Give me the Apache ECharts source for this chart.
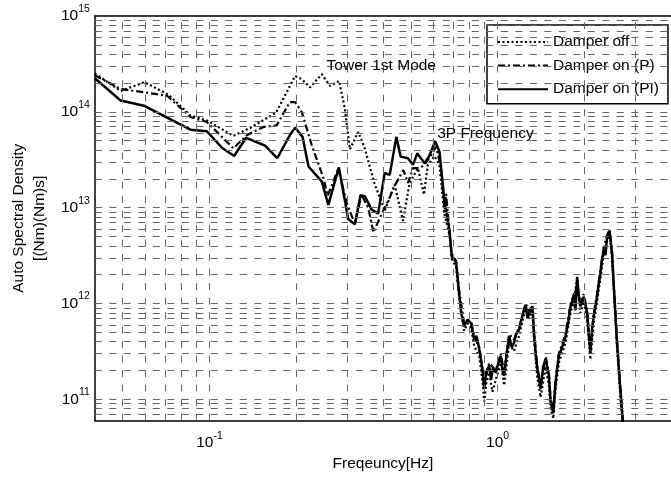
<!DOCTYPE html>
<html><head><meta charset="utf-8">
<script src="https://cdn.jsdelivr.net/npm/echarts@6/dist/echarts.min.js"></script>
<style>html,body{margin:0;padding:0;background:#fff}#c{width:671px;height:477px}</style>
</head><body><div id="c"></div>
<script>
const FONT = '"Liberation Sans", Arial, Helvetica, sans-serif';

// Series names
const seriesNames = ['Damper off', 'Damper on (P)', 'Damper on (PI)'];

// Damper off (dotted)  [frequency Hz, ASD]
const damperOff = [
  [0.04,2.52e14],[0.0492,1.65e14],[0.0595,2.04e14],[0.0723,1.50e14],[0.0859,9.17e13],[0.098,8.13e13],
  [0.1211,5.62e13],[0.1383,6.79e13],[0.1701,9.77e13],[0.190,1.85e14],[0.1983,2.37e14],[0.2092,2.19e14],
  [0.2235,1.80e14],[0.2453,2.47e14],[0.2620,1.87e14],[0.2818,2.10e14],[0.2953,1.07e14],[0.3072,4.05e13],
  [0.3284,6.18e13],[0.346,4.16e13],[0.3748,1.74e13],[0.3952,1.17e13],[0.4058,9.25e12],[0.4393,1.74e13],
  [0.4697,7.29e12],[0.4951,1.81e13],[0.5292,2.58e13],[0.5550,1.37e13],[0.5729,2.80e13],[0.6039,3.44e13],
  [0.6284,2.80e13],[0.654,8.53e12],
  [0.681,5.2e12],[0.694,2.9e12],[0.718,2.4e12],[0.735,1.2e12],[0.765,5.2e11],[0.787,6.2e11],[0.809,5.6e11],
  [0.830,3.6e11],[0.864,2.8e11],[0.888,1.5e11],[0.899,9.5e10],[0.915,1.5e11],[0.935,1.9e11],[0.96,1.2e11],
  [0.986,1.6e11],[1.026,2.4e11],[1.054,1.4e11],[1.097,3.8e11],[1.141,3.2e11],[1.188,4.6e11],[1.252,9.0e11],
  [1.286,7.0e11],[1.321,8.6e11],[1.338,4.2e11],[1.374,1.7e11],[1.411,1.05e11],[1.468,2.2e11],[1.507,1.4e11],
  [1.528,8.0e10],[1.561,6.3e10],[1.590,1.3e11],[1.632,2.4e11],[1.722,3.9e11],[1.792,8.0e11],[1.839,1.05e12],
  [1.889,1.85e12],[1.940,8.0e11],[1.991,1.05e12],[2.046,6.8e11],[2.100,2.6e11],[2.157,6.3e11],[2.215,1.05e12],
  [2.274,1.8e12],[2.335,3.2e12],[2.399,4.5e12],[2.449,5.3e12],[2.497,3.0e12],[2.529,1.5e12],[2.598,3.5e11],
  [2.667,1.1e11],[2.716,5.8e10],[2.753,4.0e10]
];

// Damper on (P) (dash-dot)
const damperP = [
  [0.04,2.41e14],[0.0492,1.73e14],[0.0592,1.60e14],[0.0713,1.47e14],[0.0859,8.82e13],[0.098,7.83e13],
  [0.1211,4.16e13],[0.1347,5.70e13],[0.1538,6.95e13],[0.171,7.22e13],[0.190,1.26e14],[0.1983,1.26e14],
  [0.2092,9.93e13],[0.2265,4.50e13],[0.2486,2.04e13],[0.2573,1.33e13],[0.2801,2.58e13],[0.2992,1.13e13],
  [0.3197,6.73e12],[0.3371,1.37e13],[0.3556,1.0e13],[0.371,5.52e12],[0.3952,8.53e12],[0.4169,1.17e13],
  [0.4393,1.69e13],[0.4709,2.47e13],[0.4888,1.81e13],[0.5087,2.58e13],[0.5361,2.58e13],[0.5578,2.80e13],
  [0.5882,3.54e13],[0.6121,4.33e13],[0.6368,2.58e13],[0.654,9.53e12],[0.663,1.39e13],[0.6806,5.52e12],
  [0.694,3.2e12],[0.718,2.8e12],[0.735,1.4e12],[0.765,6.3e11],[0.809,6.6e11],[0.830,4.5e11],[0.864,3.5e11],
  [0.888,2.0e11],[0.899,1.4e11],[0.935,2.4e11],[0.986,2.0e11],[1.026,3.0e11],[1.054,1.9e11],[1.097,4.8e11],
  [1.141,4.2e11],[1.188,5.6e11],[1.252,1.0e12],[1.286,8.3e11],[1.321,9.6e11],[1.338,5.2e11],[1.374,2.2e11],
  [1.411,1.4e11],[1.468,2.8e11],[1.507,1.9e11],[1.528,1.0e11],[1.561,7.8e10],[1.590,1.6e11],[1.632,3.0e11],
  [1.722,4.8e11],[1.792,9.8e11],[1.839,1.25e12],[1.889,1.5e12],[1.940,1.0e12],[1.991,1.25e12],[2.046,8.4e11],
  [2.100,3.3e11],[2.157,7.8e11],[2.215,1.25e12],[2.274,2.2e12],[2.335,3.8e12],[2.399,5.1e12],[2.449,5.9e12],
  [2.497,3.5e12],[2.529,1.7e12],[2.598,4.1e11],[2.667,1.35e11],[2.716,6.6e10],[2.753,4.4e10]
];

// Damper on (PI) (solid)
const damperPI = [
  [0.04,2.24e14],[0.0492,1.31e14],[0.0592,1.16e14],[0.0859,6.52e13],[0.098,6.26e13],[0.1105,4.22e13],
  [0.1218,3.46e13],[0.134,5.36e13],[0.1559,4.43e13],[0.1719,3.28e13],[0.190,5.70e13],[0.1983,6.84e13],
  [0.2104,5.48e13],[0.2207,2.69e13],[0.2453,1.88e13],[0.2587,1.07e13],[0.2813,2.63e13],[0.3033,7.57e12],
  [0.3197,6.73e12],[0.3344,1.35e13],[0.346,1.32e13],[0.365,9.6e12],[0.385,8.67e12],[0.4058,2.30e13],
  [0.4223,2.20e13],[0.4453,5.48e13],[0.461,3.41e13],[0.4888,3.28e13],[0.5087,2.80e13],[0.5263,3.69e13],
  [0.5578,2.91e13],[0.5803,3.49e13],[0.6072,4.94e13],[0.6284,3.84e13],[0.6457,1.74e13],[0.654,1.17e13],
  [0.681,5.79e12],[0.694,3.05e12],[0.718,2.71e12],[0.735,1.30e12],[0.748,8.0e11],[0.765,5.79e11],[0.787,6.8e11],
  [0.809,6.22e11],[0.830,4.22e11],[0.845,4.6e11],[0.864,3.33e11],[0.876,2.6e11],[0.888,1.91e11],[0.899,1.29e11],
  [0.912,1.9e11],[0.935,2.24e11],[0.95,1.6e11],[0.962,2.1e11],[0.986,1.91e11],[1.003,2.3e11],[1.026,2.84e11],
  [1.04,2.0e11],[1.054,1.77e11],[1.075,3.0e11],[1.097,4.57e11],[1.12,3.5e11],[1.141,3.90e11],[1.16,4.8e11],
  [1.188,5.36e11],[1.22,7.5e11],[1.252,9.70e11],[1.27,7.0e11],[1.286,7.94e11],[1.321,9.31e11],[1.338,4.94e11],
  [1.356,3.0e11],[1.374,2.07e11],[1.395,1.6e11],[1.411,1.29e11],[1.44,2.2e11],[1.468,2.63e11],[1.507,1.77e11],
  [1.528,9.38e10],[1.561,7.18e10],[1.590,1.51e11],[1.632,2.84e11],[1.68,3.6e11],[1.722,4.57e11],[1.76,6.5e11],
  [1.792,9.31e11],[1.839,1.18e12],[1.865,8.5e11],[1.889,1.90e12],[1.915,1.2e12],[1.940,9.31e11],[1.991,1.18e12],
  [2.046,7.94e11],[2.07,5.0e11],[2.100,3.07e11],[2.13,5.5e11],[2.157,7.35e11],[2.215,1.18e12],[2.245,1.6e12],
  [2.274,2.05e12],[2.30,2.8e12],[2.335,3.58e12],[2.37,3.2e12],[2.399,4.91e12],[2.449,5.75e12],[2.497,3.30e12],
  [2.529,1.62e12],[2.598,3.90e11],[2.667,1.29e11],[2.716,6.32e10],[2.753,4.26e10]
];

// Axis ranges and grid-line positions
const xRange = [0.04, 4];
const yRange = [6e10, 1e15];
const xGridValues = [0.05,0.06,0.07,0.08,0.09,0.1,0.2,0.3,0.4,0.5,0.6,0.7,0.8,0.9,1,2,3];
const yGridValues = [7e10,8e10,9e10,
  1e11,2e11,3e11,4e11,5e11,6e11,7e11,8e11,9e11,
  1e12,2e12,3e12,4e12,5e12,6e12,7e12,8e12,9e12,
  1e13,2e13,3e13,4e13,5e13,6e13,7e13,8e13,9e13,
  1e14,2e14,3e14,4e14,5e14,6e14,7e14,8e14,9e14];

// Annotations [text, frequency, value] (left-middle anchor)
const annotations = [
  ['Tower 1st Mode', 0.255, 3.0e14],
  ['3P Frequency', 0.617, 5.93e13]
];

function powLabel(v) {
  const l = Math.log10(v);
  const e = Math.round(l);
  if (Math.abs(l - e) > 1e-6) return '';
  return '{b|10}{s|' + e + '}';
}
const labelRich = {
  b: {fontSize: 15.5, fontFamily: FONT, color: '#000'},
  s: {fontSize: 10.5, fontFamily: FONT, color: '#000', padding: [0, 0, 14, 0]}
};

const gridStyle = {color: '#666', width: 1, type: [7, 7.5]};
const gridLines = xGridValues.map(v => ({xAxis: v})).concat(yGridValues.map(v => ({yAxis: v})));

const chart = echarts.init(document.getElementById('c'), null, {renderer: 'canvas'});
chart.setOption({
  animation: false,
  backgroundColor: '#fff',
  textStyle: {fontFamily: FONT},
  grid: {left: 92, right: 0, top: 16, bottom: 51.3, containLabel: false},
  xAxis: [{
    type: 'log', logBase: 10, min: xRange[0], max: xRange[1], position: 'bottom',
    name: 'Freqeuncy[Hz]', nameLocation: 'middle', nameGap: 35,
    nameTextStyle: {fontSize: 15.5, color: '#000', fontFamily: FONT},
    axisLine: {onZero: false, lineStyle: {color: '#000', width: 1.5}},
    axisTick: {show: false}, splitLine: {show: false}, minorTick: {show: false},
    axisLabel: {formatter: powLabel, rich: labelRich, margin: 10, showMinLabel: false, showMaxLabel: false}
  }, {
    type: 'log', logBase: 10, min: xRange[0], max: xRange[1], position: 'top',
    axisLine: {onZero: false, lineStyle: {color: '#000', width: 1.5}},
    axisTick: {show: false}, splitLine: {show: false}, axisLabel: {show: false}
  }],
  yAxis: [{
    type: 'log', logBase: 10, min: yRange[0], max: yRange[1],
    name: 'Auto Spectral Density\n[(Nm)(Nm)s]', nameLocation: 'middle', nameGap: 44, nameRotate: 90,
    nameTextStyle: {fontSize: 15.5, color: '#000', fontFamily: FONT, lineHeight: 21},
    axisLine: {onZero: false, lineStyle: {color: '#000', width: 1.5}},
    axisTick: {show: false}, splitLine: {show: false},
    axisLabel: {formatter: powLabel, rich: labelRich, margin: 5, showMinLabel: false}
  }],
  legend: {
    data: seriesNames, left: 487, top: 25, orient: 'vertical',
    padding: [9, 9, 6.5, 10], itemWidth: 50, itemHeight: 14, itemGap: 7.6,
    backgroundColor: '#fff', borderColor: '#000', borderWidth: 1.5, borderRadius: 0,
    textStyle: {fontSize: 15.5, color: '#000', fontFamily: FONT},
    itemStyle: {opacity: 0}, lineStyle: {opacity: 1},
    selectedMode: false
  },
  series: [{
    name: '_grid', type: 'line', data: [], silent: true, z: 1,
    markLine: {silent: true, symbol: ['none', 'none'], label: {show: false}, lineStyle: gridStyle,
      emphasis: {disabled: true}, data: gridLines, animation: false}
  }, {
    name: seriesNames[0], type: 'line', data: damperOff, symbol: 'none', z: 3,
    lineStyle: {color: '#000', width: 2.2, type: [2, 2.5]}, itemStyle: {color: '#000', opacity: 0}
  }, {
    name: seriesNames[1], type: 'line', data: damperP, symbol: 'none', z: 3,
    lineStyle: {color: '#000', width: 2.2, type: [7, 3, 2, 3]}, itemStyle: {color: '#000', opacity: 0}
  }, {
    name: seriesNames[2], type: 'line', data: damperPI, symbol: 'none', z: 4,
    lineStyle: {color: '#000', width: 2.5, type: 'solid'}, itemStyle: {color: '#000', opacity: 0}
  }]
});

const g = annotations.map(a => {
  const p = chart.convertToPixel({xAxisIndex: 0, yAxisIndex: 0}, [a[1], a[2]]);
  return {type: 'text', x: p[0], y: p[1], z: 10, silent: true,
    style: {text: a[0], fontSize: 15.5, fontFamily: FONT, fill: '#000', align: 'left', verticalAlign: 'middle'}};
});
chart.setOption({graphic: g});
</script>
</body></html>
